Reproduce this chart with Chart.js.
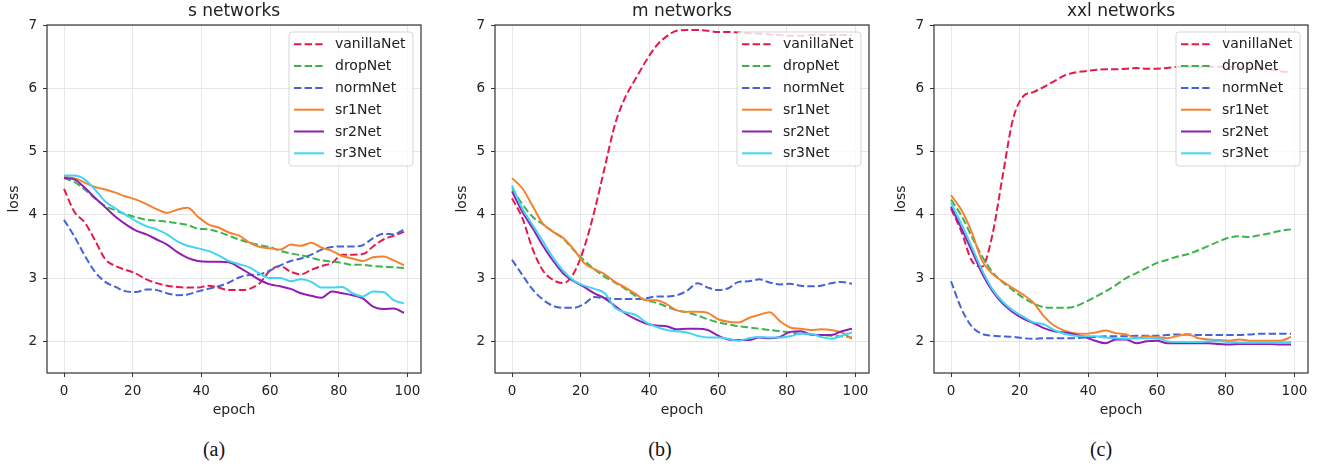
<!DOCTYPE html>
<html>
<head>
<meta charset="utf-8">
<script src="https://cdn.jsdelivr.net/npm/chart.js@4.4.1/dist/chart.umd.min.js"></script>
<style>
  body { margin:0; background:#fff; width:1330px; height:468px; position:relative; overflow:hidden; }
  .panel { position:absolute; top:0; width:440px; height:420px; }
  .cap { position:absolute; top:438px; font-family:"Liberation Serif", serif; font-size:20px; color:#111; transform:translateX(-50%); }
</style>
</head>
<body>
<div class="panel" style="left:0px"><canvas id="chart-s" width="440" height="420"></canvas></div>
<div class="panel" style="left:448px"><canvas id="chart-m" width="440" height="420"></canvas></div>
<div class="panel" style="left:887px"><canvas id="chart-xxl" width="440" height="420"></canvas></div>
<div class="cap" style="left:214px">(a)</div>
<div class="cap" style="left:660px">(b)</div>
<div class="cap" style="left:1101px">(c)</div>

<script>
const epochs = [0,3,6,9,12,15,18,21,24,27,30,33,36,39,42,45,48,51,54,57,60,63,66,69,72,75,78,81,84,87,90,93,96,99];
const xTicks = [0,20,40,60,80,100];
const yTicks = [2,3,4,5,6,7];
const seriesNames = ['vanillaNet','dropNet','normNet','sr1Net','sr2Net','sr3Net'];

// s networks
const sVanilla = [4.41,4.05,3.88,3.60,3.30,3.19,3.13,3.07,2.98,2.92,2.88,2.86,2.85,2.85,2.88,2.85,2.81,2.81,2.83,2.92,3.12,3.19,3.10,3.06,3.13,3.19,3.24,3.37,3.37,3.38,3.50,3.61,3.67,3.73];
const sDrop    = [4.58,4.52,4.40,4.26,4.14,4.07,4.01,3.96,3.92,3.91,3.89,3.87,3.84,3.78,3.77,3.73,3.67,3.61,3.56,3.52,3.49,3.43,3.39,3.36,3.32,3.28,3.26,3.24,3.21,3.21,3.19,3.18,3.17,3.16];
const sNorm    = [3.92,3.66,3.36,3.10,2.94,2.86,2.79,2.78,2.82,2.81,2.76,2.73,2.74,2.79,2.83,2.87,2.93,3.01,3.05,3.06,3.12,3.20,3.27,3.31,3.37,3.45,3.49,3.50,3.50,3.52,3.63,3.70,3.69,3.77];
const sSr1     = [4.60,4.58,4.51,4.44,4.40,4.35,4.29,4.24,4.17,4.09,4.03,4.08,4.11,3.97,3.85,3.80,3.72,3.67,3.56,3.49,3.47,3.45,3.53,3.51,3.56,3.48,3.43,3.35,3.31,3.27,3.33,3.34,3.28,3.20];
const sSr2     = [4.58,4.56,4.43,4.27,4.12,3.97,3.85,3.75,3.69,3.61,3.53,3.41,3.32,3.27,3.26,3.26,3.25,3.17,3.07,2.97,2.90,2.87,2.83,2.76,2.72,2.69,2.79,2.76,2.73,2.68,2.55,2.51,2.52,2.45];
const sSr3     = [4.62,4.62,4.56,4.40,4.21,4.10,4.00,3.90,3.82,3.77,3.69,3.58,3.51,3.47,3.43,3.36,3.27,3.22,3.17,3.07,3.00,3.00,2.95,2.98,2.94,2.85,2.85,2.86,2.76,2.71,2.79,2.78,2.65,2.60];

// m networks
const mVanilla = [4.26,3.95,3.46,3.12,2.97,2.92,3.08,3.48,4.06,4.75,5.43,5.86,6.15,6.43,6.67,6.82,6.91,6.92,6.92,6.91,6.89,6.89,6.88,6.87,6.86,6.85,6.84,6.83,6.83,6.84,6.84,6.84,6.84,6.84];
const mDrop    = [4.42,4.17,3.97,3.85,3.73,3.62,3.44,3.28,3.14,3.02,2.93,2.83,2.72,2.65,2.61,2.55,2.49,2.46,2.41,2.35,2.30,2.27,2.24,2.22,2.20,2.18,2.16,2.14,2.12,2.11,2.10,2.09,2.08,2.06];
const mNorm    = [3.29,3.05,2.82,2.66,2.56,2.53,2.53,2.59,2.70,2.68,2.67,2.67,2.67,2.68,2.71,2.71,2.73,2.80,2.92,2.85,2.81,2.84,2.94,2.95,2.98,2.93,2.90,2.91,2.88,2.87,2.88,2.92,2.94,2.91];
const mSr1     = [4.58,4.42,4.14,3.86,3.73,3.63,3.45,3.24,3.14,3.06,2.94,2.85,2.75,2.65,2.65,2.59,2.49,2.47,2.47,2.45,2.35,2.31,2.30,2.37,2.42,2.46,2.32,2.22,2.20,2.18,2.19,2.18,2.14,2.04];
const mSr2     = [4.37,4.05,3.79,3.51,3.27,3.07,2.95,2.86,2.76,2.68,2.56,2.44,2.35,2.28,2.25,2.24,2.19,2.20,2.20,2.18,2.09,2.03,2.02,2.02,2.06,2.05,2.07,2.15,2.16,2.11,2.10,2.10,2.16,2.20];
const mSr3     = [4.46,4.10,3.84,3.58,3.32,3.11,2.96,2.88,2.83,2.76,2.53,2.46,2.42,2.30,2.23,2.18,2.16,2.14,2.09,2.06,2.06,2.04,2.01,2.05,2.07,2.06,2.06,2.08,2.12,2.12,2.07,2.04,2.09,2.14];

// xxl networks
const xxlVanilla = [4.10,3.74,3.28,3.18,3.67,4.60,5.50,5.87,5.94,6.02,6.11,6.20,6.25,6.27,6.29,6.30,6.30,6.31,6.32,6.31,6.31,6.32,6.34,6.34,6.34,6.34,6.34,6.34,6.33,6.33,6.32,6.30,6.27,6.25];
const xxlDrop    = [4.24,3.99,3.66,3.35,3.10,2.94,2.81,2.69,2.60,2.54,2.53,2.53,2.55,2.62,2.70,2.79,2.89,3.00,3.08,3.16,3.24,3.29,3.34,3.38,3.44,3.51,3.58,3.64,3.66,3.65,3.68,3.71,3.75,3.77];
const xxlNorm    = [2.95,2.52,2.24,2.12,2.09,2.08,2.07,2.05,2.04,2.05,2.05,2.05,2.05,2.06,2.07,2.08,2.08,2.08,2.09,2.09,2.09,2.10,2.11,2.11,2.10,2.10,2.10,2.10,2.10,2.11,2.12,2.12,2.12,2.12];
const xxlSr1     = [4.31,4.08,3.73,3.28,3.07,2.95,2.84,2.74,2.61,2.40,2.25,2.17,2.13,2.12,2.14,2.17,2.13,2.11,2.05,2.08,2.07,2.05,2.09,2.11,2.05,2.03,2.02,2.01,2.03,2.01,2.01,2.01,2.01,2.07];
const xxlSr2     = [4.13,3.79,3.44,3.08,2.80,2.60,2.46,2.36,2.29,2.21,2.16,2.14,2.11,2.07,2.01,1.97,2.03,2.03,1.97,2.00,2.01,1.97,1.97,1.97,1.97,1.97,1.96,1.95,1.96,1.96,1.96,1.96,1.95,1.95];
const xxlSr3     = [4.19,3.86,3.50,3.13,2.83,2.63,2.49,2.39,2.30,2.27,2.18,2.12,2.09,2.08,2.08,2.06,2.05,2.04,2.05,2.05,2.05,2.00,1.99,1.99,1.99,2.00,2.00,1.99,1.98,1.98,1.98,1.98,1.98,1.99];

const COLORS = ['#e6194b', '#3cb44b', '#4363d8', '#f58231', '#911eb4', '#42d4f4'];
const DASHED = [true, true, true, false, false, false];
const FONT = '"DejaVu Sans", sans-serif';
const INK = '#222';

// matplotlib-like frame: spines on all four sides
const framePlugin = {
  id: 'frame',
  afterDraw(chart) {
    const { ctx, chartArea: a } = chart;
    ctx.save();
    ctx.strokeStyle = '#333';
    ctx.lineWidth = 1.2;
    ctx.strokeRect(a.left, a.top, a.right - a.left, a.bottom - a.top);
    ctx.restore();
  }
};

// legend box in the upper right corner of the axes
const insideLegend = {
  id: 'insideLegend',
  afterDatasetsDraw(chart) {
    const { ctx, chartArea: a } = chart;
    const w = 124, h = 134, rowH = 21.8;
    const x0 = a.right - 8 - w, y0 = a.top + 7;
    ctx.save();
    ctx.beginPath();
    ctx.roundRect(x0, y0, w, h, 3);
    ctx.fillStyle = 'rgba(255,255,255,0.8)';
    ctx.fill();
    ctx.strokeStyle = 'rgba(204,204,204,0.8)';
    ctx.lineWidth = 1;
    ctx.stroke();
    ctx.font = `14px ${FONT}`;
    ctx.textBaseline = 'middle';
    chart.data.datasets.forEach((ds, i) => {
      const y = y0 + 12.3 + i * rowH;
      ctx.beginPath();
      ctx.setLineDash(ds.borderDash || []);
      ctx.strokeStyle = ds.borderColor;
      ctx.lineWidth = 2;
      ctx.moveTo(x0 + 5, y);
      ctx.lineTo(x0 + 35, y);
      ctx.stroke();
      ctx.setLineDash([]);
      ctx.fillStyle = INK;
      ctx.fillText(ds.label, x0 + 46, y + 0.5);
    });
    ctx.restore();
  }
};

function makePanel(canvasId, title, series) {
  const datasets = series.map((vals, i) => ({
    label: seriesNames[i],
    data: epochs.map((e, k) => ({ x: e, y: vals[k] })),
    borderColor: COLORS[i],
    borderWidth: 2,
    borderDash: DASHED[i] ? [7.4, 3.2] : [],
    pointRadius: 0,
    cubicInterpolationMode: 'monotone',
    fill: false,
    order: series.length - i
  }));

  return new Chart(document.getElementById(canvasId), {
    type: 'line',
    data: { datasets },
    options: {
      responsive: false,
      animation: false,
      layout: { padding: { left: 0, right: 19, top: 0, bottom: 0 } },
      plugins: {
        legend: { display: false },
        tooltip: { enabled: false },
        title: {
          display: true, text: title, fullSize: false, color: INK,
          font: { family: FONT, size: 17, weight: 'normal' },
          padding: { top: 1.5, bottom: 3.1 }
        }
      },
      scales: {
        x: {
          type: 'linear', min: -4.95, max: 103.95,
          afterFit: s => { s.height = 47; },
          afterBuildTicks: s => { s.ticks = xTicks.map(v => ({ value: v })); },
          grid: { color: '#e6e6e6', lineWidth: 1, tickColor: '#333', tickLength: 4 },
          border: { display: false },
          ticks: { color: INK, font: { family: FONT, size: 13.5 }, padding: 6, maxRotation: 0, autoSkip: false },
          title: { display: true, text: 'epoch', color: INK, font: { family: FONT, size: 14 }, padding: { top: 0, bottom: 1.6 } }
        },
        y: {
          type: 'linear', min: 1.5, max: 7,
          afterFit: s => { s.width = 47; },
          afterBuildTicks: s => { s.ticks = yTicks.map(v => ({ value: v })); },
          grid: { color: '#e6e6e6', lineWidth: 1, tickColor: '#333', tickLength: 4 },
          border: { display: false },
          ticks: { color: INK, font: { family: FONT, size: 13.5 }, padding: 6, autoSkip: false },
          title: { display: true, text: 'loss', color: INK, font: { family: FONT, size: 14 }, padding: { top: 5.5, bottom: 0 } }
        }
      }
    },
    plugins: [insideLegend, framePlugin]
  });
}

makePanel('chart-s', 's networks', [sVanilla, sDrop, sNorm, sSr1, sSr2, sSr3]);
makePanel('chart-m', 'm networks', [mVanilla, mDrop, mNorm, mSr1, mSr2, mSr3]);
makePanel('chart-xxl', 'xxl networks', [xxlVanilla, xxlDrop, xxlNorm, xxlSr1, xxlSr2, xxlSr3]);
</script>
</body>
</html>
